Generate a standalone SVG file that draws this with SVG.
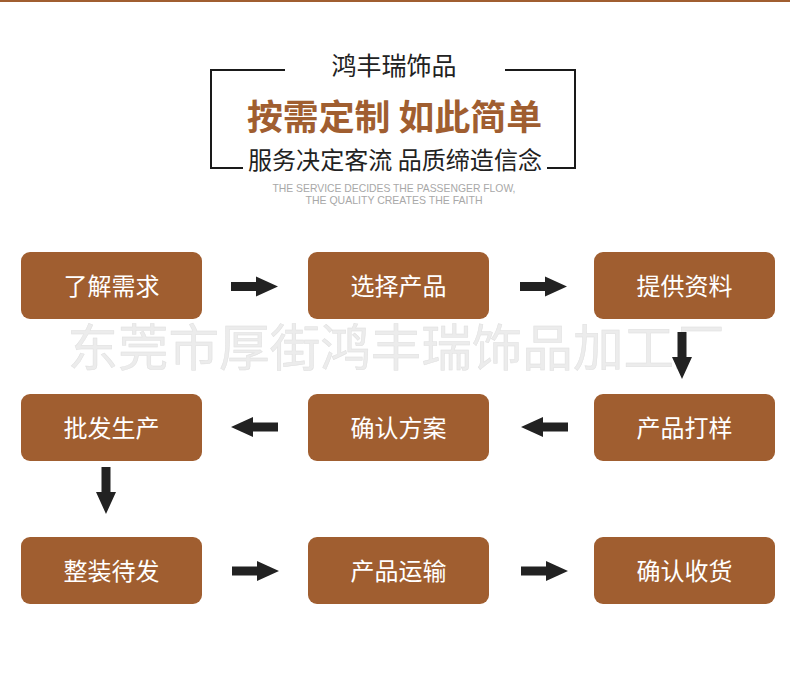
<svg xmlns="http://www.w3.org/2000/svg" width="790" height="678" viewBox="0 0 790 678">
<style>
.box{fill:#a05e30}
.lbl{font-family:"Noto Sans CJK SC","Noto Sans",sans-serif;font-size:24px;fill:#ffffff;text-anchor:middle}
.brk{fill:none;stroke:#1a1a1a;stroke-width:2}
.arr{fill:#222222}
</style>
<defs>
<path id="ar" d="M0,-4.5 H25 V-10 L47,0 L25,10 V4.5 H0 Z"/>
</defs>
<rect x="0" y="0" width="790" height="678" fill="#ffffff"/>
<rect x="0" y="0" width="790" height="2" fill="#a05e30"/>
<g id="header">
<path class="brk" d="M285,70 H211 V168 H243"/>
<path class="brk" d="M505,70 H575 V168 H547"/>
<text x="394" y="75" font-family="Noto Sans CJK SC,sans-serif" font-size="25" fill="#222" text-anchor="middle">鸿丰瑞饰品</text>
<text x="394.5" y="130" font-family="Noto Sans CJK SC,sans-serif" font-size="35" font-weight="bold" fill="#a05e30" text-anchor="middle" textLength="295" lengthAdjust="spacingAndGlyphs">按需定制 如此简单</text>
<text x="395" y="169" font-family="Noto Sans CJK SC,sans-serif" font-size="24" fill="#222" text-anchor="middle" textLength="294" lengthAdjust="spacingAndGlyphs">服务决定客流 品质缔造信念</text>
<text x="394" y="192" font-family="Liberation Sans,sans-serif" font-size="10.5" fill="#a8a8a8" text-anchor="middle" textLength="243" lengthAdjust="spacingAndGlyphs">THE SERVICE DECIDES THE PASSENGER FLOW,</text>
<text x="394" y="204" font-family="Liberation Sans,sans-serif" font-size="10.5" fill="#a8a8a8" text-anchor="middle" textLength="177" lengthAdjust="spacingAndGlyphs">THE QUALITY CREATES THE FAITH</text>
</g>
<text x="396" y="366" font-family="Noto Sans CJK SC,sans-serif" font-size="50" fill="#ececec" text-anchor="middle" stroke="#e0e0e0" stroke-width="0.5" textLength="657" lengthAdjust="spacingAndGlyphs">东莞市厚街鸿丰瑞饰品加工厂</text>
<g id="connectors" class="arr">
<use href="#ar" transform="translate(231,286.5)"/>
<use href="#ar" transform="translate(520,286.5)"/>
<use href="#ar" transform="translate(682,332) rotate(90)"/>
<use href="#ar" transform="translate(568,427) scale(-1,1)"/>
<use href="#ar" transform="translate(278,427) scale(-1,1)"/>
<use href="#ar" transform="translate(106,467) rotate(90)"/>
<use href="#ar" transform="translate(232,571)"/>
<use href="#ar" transform="translate(521,571)"/>
</g>
<g id="n1"><rect class="box" x="21" y="252" width="181" height="67" rx="9"/><text class="lbl" x="111.5" y="295">了解需求</text></g>
<g id="n2"><rect class="box" x="308" y="252" width="181" height="67" rx="9"/><text class="lbl" x="398.5" y="295">选择产品</text></g>
<g id="n3"><rect class="box" x="594" y="252" width="181" height="67" rx="9"/><text class="lbl" x="684.5" y="295">提供资料</text></g>
<g id="n4"><rect class="box" x="594" y="394" width="181" height="67" rx="9"/><text class="lbl" x="684.5" y="437">产品打样</text></g>
<g id="n5"><rect class="box" x="308" y="394" width="181" height="67" rx="9"/><text class="lbl" x="398.5" y="437">确认方案</text></g>
<g id="n6"><rect class="box" x="21" y="394" width="181" height="67" rx="9"/><text class="lbl" x="111.5" y="437">批发生产</text></g>
<g id="n7"><rect class="box" x="21" y="537" width="181" height="67" rx="9"/><text class="lbl" x="111.5" y="580">整装待发</text></g>
<g id="n8"><rect class="box" x="308" y="537" width="181" height="67" rx="9"/><text class="lbl" x="398.5" y="580">产品运输</text></g>
<g id="n9"><rect class="box" x="594" y="537" width="181" height="67" rx="9"/><text class="lbl" x="684.5" y="580">确认收货</text></g>
</svg>
